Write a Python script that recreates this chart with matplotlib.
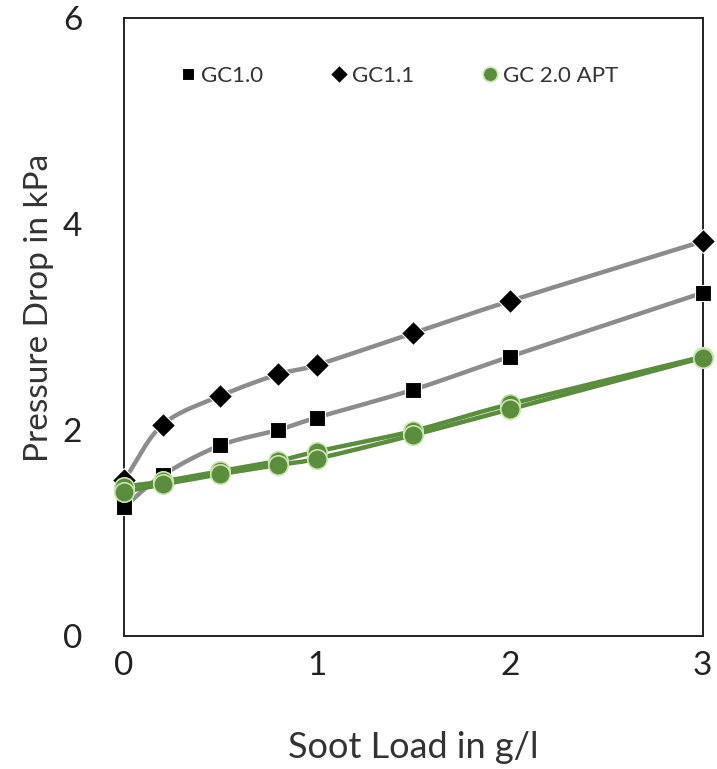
import numpy as np
import matplotlib
matplotlib.use("Agg")
import matplotlib.pyplot as plt

plt.rcParams['font.family'] = ['Lato', 'DejaVu Sans']

soot_load = [0.0, 0.2, 0.5, 0.8, 1.0, 1.5, 2.0, 3.0]
gc10 = [1.25, 1.56, 1.85, 2.00, 2.12, 2.39, 2.71, 3.33]
gc11 = [1.51, 2.05, 2.33, 2.54, 2.63, 2.94, 3.25, 3.83]
# two runs of the APT filter
gc20_a = [1.40, 1.47, 1.57, 1.66, 1.72, 1.95, 2.20, 2.70]
gc20_b = [1.45, 1.50, 1.60, 1.70, 1.79, 1.99, 2.25, 2.71]

x_ticks = [0, 1, 2, 3]
y_ticks = [0, 2, 4, 6]

GRAY = "#8c8c8c"
GREEN = "#5b8e3c"
TXT = "#333333"


def smooth(x, y, n=30):
    """Catmull-Rom curve through the points (like a spreadsheet 'smoothed line')."""
    p = np.column_stack([x, y]).astype(float)
    p = np.vstack([p[0] - (p[1] - p[0]), p, p[-1] + (p[-1] - p[-2])])
    out = []
    t = np.linspace(0, 1, n)[:, None]
    for i in range(1, len(p) - 2):
        p0, p1, p2, p3 = p[i - 1], p[i], p[i + 1], p[i + 2]
        seg = 0.5 * ((2 * p1) + (-p0 + p2) * t
                     + (2 * p0 - 5 * p1 + 4 * p2 - p3) * t ** 2
                     + (-p0 + 3 * p1 - 3 * p2 + p3) * t ** 3)
        out.append(seg)
    c = np.vstack(out)
    return c[:, 0], c[:, 1]


fig = plt.figure(figsize=(7.17, 7.69), dpi=100)
ax = fig.add_axes([0.173, 0.173, 0.807, 0.804])

for ys in (gc10, gc11):
    sx, sy = smooth(soot_load, ys)
    ax.plot(sx, sy, color=GRAY, lw=3.2, zorder=2, solid_capstyle="round")
for ys in (gc20_a, gc20_b):
    sx, sy = smooth(soot_load, ys)
    ax.plot(sx, sy, color=GREEN, lw=3.2, zorder=2, solid_capstyle="round")

ax.plot(soot_load, gc10, ls="none", marker="s", ms=12, color="black",
        mec="white", mew=0.8, zorder=3, label="GC1.0")
ax.plot(soot_load, gc11, ls="none", marker="D", ms=12, color="black",
        mec="white", mew=0.8, zorder=3, label="GC1.1")
ax.plot(soot_load, gc20_b, ls="none", marker="o", ms=14, color=GREEN,
        mec="#c9e6b0", mew=1.2, zorder=4)
ax.plot(soot_load, gc20_a, ls="none", marker="o", ms=14, color=GREEN,
        mec="#c9e6b0", mew=1.2, zorder=4, label="GC 2.0 APT")

ax.set_xlim(0, 3)
ax.set_ylim(0, 6)
ax.set_xticks(x_ticks)
ax.set_yticks(y_ticks)
ax.tick_params(length=0, labelsize=24, colors="#222222")
ax.tick_params(axis="x", pad=11)
ax.tick_params(axis="y", pad=30)
for s in ax.spines.values():
    s.set_color("#222222")
    s.set_linewidth(1.4)
for line in ax.get_lines():
    line.set_clip_on(False)

ax.set_xlabel("Soot Load in g/l", fontsize=26, color=TXT, labelpad=36)
ax.set_ylabel("Pressure Drop in kPa", fontsize=24, color=TXT)
ax.yaxis.set_label_coords(-0.121, 0.53)

leg = ax.legend(loc="upper left", bbox_to_anchor=(0.057, 0.955), ncol=3,
                frameon=False, fontsize=16, handletextpad=0.1,
                columnspacing=2.9, markerscale=0.75, handlelength=1.0)
for t in leg.get_texts():
    t.set_color(TXT)

fig.savefig("out.png", dpi=100, facecolor="white")
